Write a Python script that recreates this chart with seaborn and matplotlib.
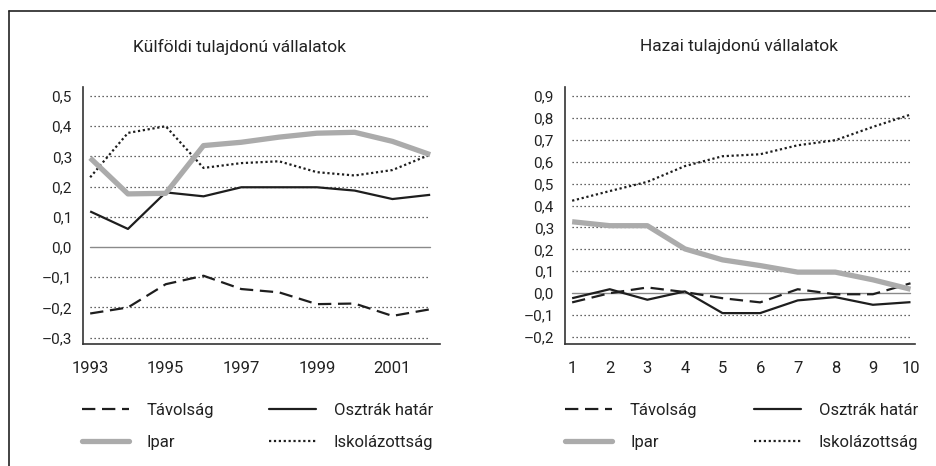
import numpy as np
import pandas as pd
import matplotlib
matplotlib.use("Agg")
import matplotlib.pyplot as plt
from matplotlib.lines import Line2D
import seaborn as sns

# --- Data ---
YEARS = list(range(1993, 2003))
STEPS = list(range(1, 11))

LEFT_TITLE = "Külföldi tulajdonú vállalatok"
RIGHT_TITLE = "Hazai tulajdonú vállalatok"

SERIES = ["Távolság", "Osztrák határ", "Ipar", "Iskolázottság"]

foreign_tavolsag = [-0.220, -0.200, -0.123, -0.095, -0.139, -0.150, -0.189, -0.187, -0.228, -0.206]
foreign_osztrak = [0.118, 0.060, 0.181, 0.168, 0.198, 0.198, 0.198, 0.187, 0.159, 0.173]
foreign_ipar = [0.295, 0.176, 0.178, 0.336, 0.347, 0.364, 0.377, 0.380, 0.350, 0.306]
foreign_iskola = [0.231, 0.378, 0.400, 0.262, 0.278, 0.284, 0.248, 0.237, 0.255, 0.306]

domestic_tavolsag = [-0.042, 0.000, 0.026, 0.005, -0.023, -0.042, 0.018, -0.005, -0.005, 0.045]
domestic_osztrak = [-0.023, 0.018, -0.030, 0.008, -0.091, -0.091, -0.033, -0.018, -0.053, -0.041]
domestic_ipar = [0.326, 0.308, 0.308, 0.202, 0.152, 0.126, 0.096, 0.096, 0.061, 0.018]
domestic_iskola = [0.422, 0.466, 0.508, 0.580, 0.625, 0.634, 0.675, 0.698, 0.759, 0.815]

LEFT_YTICKS = [-0.3, -0.2, -0.1, 0.0, 0.1, 0.2, 0.3, 0.4, 0.5]
RIGHT_YTICKS = [-0.2, -0.1, 0.0, 0.1, 0.2, 0.3, 0.4, 0.5, 0.6, 0.7, 0.8, 0.9]

# --- Styles ---
STYLES = {
    "Távolság": dict(color="#1e1e1e", lw=1.6, ls=(0, (6, 3))),
    "Osztrák határ": dict(color="#1e1e1e", lw=1.6, ls="-"),
    "Ipar": dict(color="#ababab", lw=3.8, ls="-"),
    "Iskolázottság": dict(color="#1e1e1e", lw=1.6, ls=(0, (1, 1.2))),
}
FONT = ["Liberation Sans Narrow", "Roboto", "DejaVu Sans"]


def fmt(v):
    s = f"{abs(v):.1f}".replace(".", ",")
    return ("\u2013" + s) if v < -1e-9 else s


def long_frame(x, values):
    rows = []
    for name, vals in zip(SERIES, values):
        for xi, v in zip(x, vals):
            rows.append({"x": xi, "y": v, "series": name})
    return pd.DataFrame(rows)


def draw_panel(ax, df, x, yticks, xlim, ylim, xlabels):
    # grid lines only across the data range
    for t in yticks:
        if abs(t) < 1e-9:
            ax.plot([x[0], x[-1]], [0, 0], color="#8a8a8a", lw=1.0, zorder=1)
        else:
            ax.plot([x[0], x[-1]], [t, t], color="#333333", lw=0.9,
                    ls=(0, (1, 2.2)), zorder=1)
    for name in ["Távolság", "Osztrák határ", "Iskolázottság", "Ipar"]:
        st = STYLES[name]
        sub = df[df["series"] == name]
        sns.lineplot(data=sub, x="x", y="y", ax=ax, color=st["color"],
                     linewidth=st["lw"], linestyle=st["ls"], zorder=3,
                     solid_capstyle="butt", dash_capstyle="butt", legend=False)
    ax.set_xlim(*xlim)
    ax.set_ylim(*ylim)
    ax.set_xticks(x)
    ax.set_xticklabels(xlabels)
    ax.set_yticks(yticks)
    ax.set_yticklabels([fmt(t) for t in yticks])
    ax.set_xlabel("")
    ax.set_ylabel("")
    for side in ["top", "right"]:
        ax.spines[side].set_visible(False)
    for side in ["left", "bottom"]:
        ax.spines[side].set_color("#333333")
        ax.spines[side].set_linewidth(1.2)
    ax.tick_params(axis="y", length=5, width=1.1, color="#333333",
                   labelsize=11, pad=3, labelcolor="#222222")
    ax.tick_params(axis="x", length=6, width=1.1, color="#333333",
                   labelsize=12, pad=6, labelcolor="#222222")
    ax.grid(False)
    ax.set_facecolor("white")


def add_legends(fig, x_left, x_right, y_top):
    def h(name):
        st = STYLES[name]
        return Line2D([], [], color=st["color"], lw=st["lw"], ls=st["ls"],
                      solid_capstyle="round")
    for xpos, names in [(x_left, ["Távolság", "Ipar"]), (x_right, ["Osztrák határ", "Iskolázottság"])]:
        leg = fig.legend([h(n) for n in names], names, loc="upper left",
                         bbox_to_anchor=(xpos / 937, y_top), frameon=False,
                         borderpad=0, borderaxespad=0, handlelength=2.8,
                         handletextpad=1.1, labelspacing=1.0, fontsize=12)
        for t in leg.get_texts():
            t.set_color("#222222")


def main():
    sns.set_theme(style="white")
    plt.rcParams["font.family"] = FONT
    plt.rcParams["axes.unicode_minus"] = False

    fig = plt.figure(figsize=(9.37, 4.66), dpi=100)
    fig.patch.set_facecolor("white")

    axl = fig.add_axes([83 / 937, 1 - 344 / 466, 357 / 937, 257 / 466])
    axr = fig.add_axes([565 / 937, 1 - 344 / 466, 350 / 937, 257 / 466])

    dfl = long_frame(YEARS, [foreign_tavolsag, foreign_osztrak, foreign_ipar, foreign_iskola])
    dfr = long_frame(STEPS, [domestic_tavolsag, domestic_osztrak, domestic_ipar, domestic_iskola])

    xlab = [str(y) if (y - 1993) % 2 == 0 else "" for y in YEARS]
    draw_panel(axl, dfl, YEARS, LEFT_YTICKS, (1992.81, 2002.26), (-0.321, 0.53), xlab)
    draw_panel(axr, dfr, STEPS, RIGHT_YTICKS, (0.81, 10.12), (-0.232, 0.941),
               [str(s) for s in STEPS])

    fig.text(240 / 937, 1 - 47 / 466, LEFT_TITLE, ha="center", va="center",
             fontsize=12.5, color="#222222")
    fig.text(739 / 937, 1 - 47 / 466, RIGHT_TITLE, ha="center", va="center",
             fontsize=12.5, color="#222222")

    add_legends(fig, 82, 269, 1 - 403 / 466)
    add_legends(fig, 565, 754, 1 - 403 / 466)

    # frame around the figure (top and left edges visible)
    fig.add_artist(Line2D([9 / 937, 1.0], [1 - 11 / 466, 1 - 11 / 466],
                          transform=fig.transFigure, color="#222222", lw=1.2))
    fig.add_artist(Line2D([9 / 937, 9 / 937], [0, 1 - 11 / 466],
                          transform=fig.transFigure, color="#222222", lw=1.2))

    fig.savefig("out.png", dpi=100, facecolor="white")


if __name__ == "__main__":
    main()
